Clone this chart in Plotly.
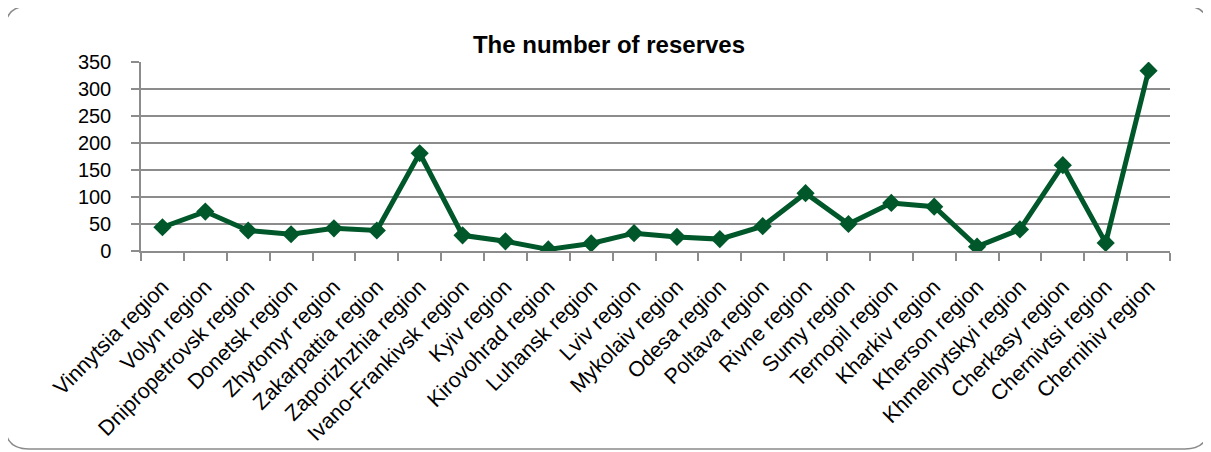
import plotly.graph_objects as go

categories = ["Vinnytsia region", "Volyn region", "Dnipropetrovsk region", "Donetsk region",
              "Zhytomyr region", "Zakarpattia region", "Zaporizhzhia region", "Ivano-Frankivsk region",
              "Kyiv region", "Kirovohrad region", "Luhansk region", "Lviv region",
              "Mykolaiv region", "Odesa region", "Poltava region", "Rivne region",
              "Sumy region", "Ternopil region", "Kharkiv region", "Kherson region",
              "Khmelnytskyi region", "Cherkasy region", "Chernivtsi region", "Chernihiv region"]
reserves = [44, 73, 38, 31, 42, 38, 181, 29, 18, 3, 14, 33, 26, 22, 46, 107, 50, 89, 82, 8, 40, 159, 15, 334]
y_ticks = [0, 50, 100, 150, 200, 250, 300, 350]

# page body has an 8px margin: figure is drawn from (8,8) of the window
OFF = 8
W, H = 1211 - OFF, 452 - OFF
# plot area in window pixels: x 141..1170, y 62..251
ML = 141 - OFF
MT = 62 - OFF
MR = W - (1170 - OFF)
MB = H - (251 - OFF)
PW, PH = W - ML - MR, H - MT - MB

FONT = "Liberation Sans, Arial, sans-serif"
GREEN = "#00572A"
GRID = "#8C8C8C"

def px(x, y):
    # window pixel -> paper coordinates
    x -= OFF
    y -= OFF
    return (x - ML) / PW, (H - MB - y) / PH

def frame_path(x0, y0, x1, y1, r):
    def P(x, y):
        a, b = px(x, y)
        return f"{a:.5f},{b:.5f}"
    s = f"M {P(x0 + r, y0)} L {P(x1 - r, y0)} Q {P(x1, y0)} {P(x1, y0 + r)} "
    s += f"L {P(x1, y1 - r)} Q {P(x1, y1)} {P(x1 - r, y1)} "
    s += f"L {P(x0 + r, y1)} Q {P(x0, y1)} {P(x0, y1 - r)} "
    s += f"L {P(x0, y0 + r)} Q {P(x0, y0)} {P(x0 + r, y0)} Z"
    return s

fig = go.Figure(go.Scatter(
    x=categories, y=reserves, mode="lines+markers",
    line=dict(color=GREEN, width=5),
    marker=dict(symbol="diamond", size=14, color=GREEN),
    hoverinfo="x+y",
))

fig.update_layout(
    width=W, height=H,
    margin=dict(l=ML, r=MR, t=MT, b=MB, autoexpand=False),
    paper_bgcolor="white", plot_bgcolor="white",
    showlegend=False,
    font=dict(family=FONT, color="black"),
    title=dict(text="<b>The number of reserves</b>", x=(609 - OFF) / W, xanchor="center",
               y=1 - (45 - OFF) / H, yanchor="middle",
               font=dict(family=FONT, size=24, color="black")),
    xaxis=dict(
        type="category", tickangle=-45, tickfont=dict(size=21.5, family=FONT, color="black"),
        showgrid=False, showline=True, linecolor=GRID, linewidth=1.5,
        ticks="outside", ticklen=8, tickcolor=GRID, tickwidth=1.5, tickson="boundaries",
        ticklabelstandoff=13,
        range=[-0.5, len(categories) - 0.5], fixedrange=True, automargin=False,
    ),
    yaxis=dict(
        range=[0, 350], tickvals=y_ticks, tickfont=dict(size=20, family=FONT, color="black"),
        showgrid=True, gridcolor=GRID, gridwidth=1.5,
        showline=True, linecolor=GRID, linewidth=1.5,
        ticks="outside", ticklen=8, tickcolor=GRID, tickwidth=1.5,
        ticklabelstandoff=16, zeroline=False, fixedrange=True, automargin=False,
    ),
    shapes=[dict(type="path", xref="paper", yref="paper",
                 path=frame_path(5, 6, 1209, 449, 24),
                 line=dict(color="#8A8A8A", width=1.5), layer="below")],
)

fig.write_html("out.html")
